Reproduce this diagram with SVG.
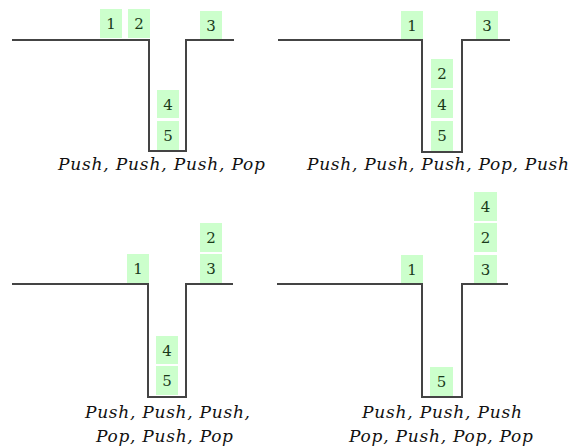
<svg xmlns="http://www.w3.org/2000/svg" width="571" height="446" viewBox="0 0 571 446">
<style>
.wall{fill:none;stroke:#444;stroke-width:2;stroke-linejoin:miter}
.box rect{fill:#ccffcc}
.box text{font-family:"DejaVu Serif","Liberation Serif",serif;font-size:15px;fill:#1a3a1a;text-anchor:middle}
.cap{font-family:"DejaVu Serif","Liberation Serif",serif;font-style:italic;font-size:17px;fill:#111}
</style>
<rect width="571" height="446" fill="#fff"/>
<g id="connectors">
<path class="wall" d="M12,40 H149 V151 H186 V40 H234"/>
<path class="wall" d="M278,40 H422 V152 H462 V40 H510"/>
<path class="wall" d="M12,284 H148 V397 H186 V284 H233"/>
<path class="wall" d="M277,284 H422 V397 H462 V284 H508"/>
</g>
<g id="panel1">
<g class="box" id="p1b1"><rect x="100" y="9" width="22" height="29"/><text x="111" y="29">1</text></g>
<g class="box" id="p1b2"><rect x="128" y="9" width="22" height="29"/><text x="139" y="29">2</text></g>
<g class="box" id="p1b3"><rect x="200" y="11" width="22" height="28"/><text x="211" y="31">3</text></g>
<g class="box" id="p1b4"><rect x="157" y="90" width="22" height="28"/><text x="168" y="110">4</text></g>
<g class="box" id="p1b5"><rect x="157" y="121" width="22" height="29"/><text x="168" y="141">5</text></g>
<text class="cap" x="58" y="170" textLength="207">Push, Push, Push, Pop</text>
</g>
<g id="panel2">
<g class="box" id="p2b1"><rect x="401" y="11" width="22" height="28"/><text x="412" y="31">1</text></g>
<g class="box" id="p2b3"><rect x="476" y="11" width="22" height="28"/><text x="487" y="31">3</text></g>
<g class="box" id="p2b2"><rect x="431" y="59" width="22" height="29"/><text x="442" y="79">2</text></g>
<g class="box" id="p2b4"><rect x="431" y="90" width="22" height="28"/><text x="442" y="110">4</text></g>
<g class="box" id="p2b5"><rect x="431" y="121" width="22" height="30"/><text x="442" y="141">5</text></g>
<text class="cap" x="307" y="170" textLength="262">Push, Push, Push, Pop, Push</text>
</g>
<g id="panel3">
<g class="box" id="p3b1"><rect x="127" y="254" width="22" height="29"/><text x="138" y="274">1</text></g>
<g class="box" id="p3b2"><rect x="200" y="223" width="22" height="29"/><text x="211" y="243">2</text></g>
<g class="box" id="p3b3"><rect x="200" y="254" width="22" height="29"/><text x="211" y="274">3</text></g>
<g class="box" id="p3b4"><rect x="156" y="336" width="22" height="28"/><text x="167" y="356">4</text></g>
<g class="box" id="p3b5"><rect x="156" y="366" width="22" height="29"/><text x="167" y="386">5</text></g>
<text class="cap" x="85" y="418" textLength="165">Push, Push, Push,</text>
<text class="cap" x="96" y="442" textLength="137">Pop, Push, Pop</text>
</g>
<g id="panel4">
<g class="box" id="p4b1"><rect x="401" y="255" width="22" height="28"/><text x="412" y="275">1</text></g>
<g class="box" id="p4b4"><rect x="474" y="192" width="23" height="29"/><text x="485.5" y="212">4</text></g>
<g class="box" id="p4b2"><rect x="474" y="223" width="23" height="29"/><text x="485.5" y="243">2</text></g>
<g class="box" id="p4b3"><rect x="474" y="255" width="23" height="28"/><text x="485.5" y="275">3</text></g>
<g class="box" id="p4b5"><rect x="430" y="367" width="23" height="29"/><text x="441.5" y="387">5</text></g>
<text class="cap" x="362" y="418" textLength="160">Push, Push, Push</text>
<text class="cap" x="349" y="442" textLength="184">Pop, Push, Pop, Pop</text>
</g>
</svg>
